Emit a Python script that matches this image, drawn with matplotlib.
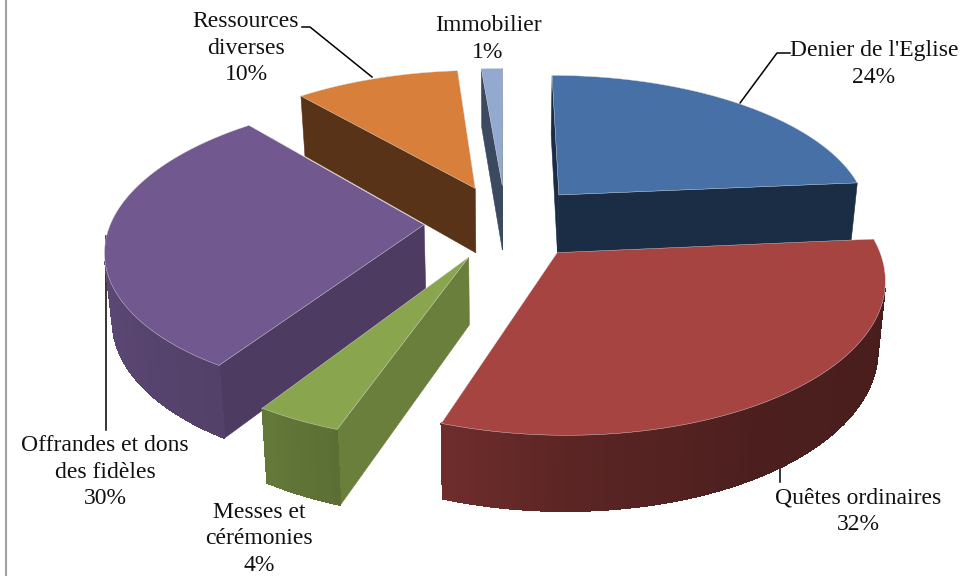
#plot.py
import numpy as np
import matplotlib
matplotlib.use("Agg")
import matplotlib.pyplot as plt
from matplotlib.patches import Polygon

# clockwise from the top, like the spreadsheet draws it
labels = ["Denier de l'Eglise", "Quêtes ordinaires", "Messes et\ncérémonies",
          "Offrandes et dons\ndes fidèles", "Ressources\ndiverses", "Immobilier"]
values = [23.6, 31.8, 3.7, 29.7, 10.0, 1.3]
shown_pct = [24, 32, 4, 30, 10, 1]
top_colors = ["#4771A6", "#A64442", "#89A54E", "#71588F", "#D8803B", "#93A9CF"]
side_colors = ["#1A2D45", "#4A1B19", "#6A7F3C", "#4D3B62", "#583317", "#3B4A60"]
label_pos = [(874, 64), (858, 511), (259, 539), (105, 472), (246, 48), (488, 39)]

# leader lines, in pixels
leaders = [[(302, 27), (310, 27), (372, 77)],
           [(790, 53), (777, 53), (740, 103)],
           [(106, 236), (106, 430)],
           [(780, 463), (780, 482)]]

# projection settings, fitted by eye
CX, CY = 505.5, 222
RX, RY = 313, 145
PERSP, PERSP_Z = 0.15, 0.02
DEPTH = 66
EXPLODE = 0.26

# how bright the round wall is, per angle
wall_deg = [0, 85, 150, 180, 200, 214, 260, 320, 360]
wall_lit = [0.42, 0.42, 0.46, 0.55, 0.67, 0.74, 0.82, 0.80, 0.60]


def project(u, v, z=0.0):
    w = 1 + PERSP * v
    return CX + RX * u / (w * (1 + PERSP_Z * z)), CY - RY * v / w + DEPTH * z / w ** 0.7


def shade(color, f):
    rgb = np.array(matplotlib.colors.to_rgb(color))
    return tuple(rgb * f)


def is_front(pts):
    x = np.array([p[0] for p in pts])
    y = np.array([p[1] for p in pts])
    return np.sum(x * np.roll(y, -1) - np.roll(x, -1) * y) < 0


fig = plt.figure(figsize=(9.61, 5.76), dpi=100)
ax = fig.add_axes([0, 0, 1, 1])
ax.set_xlim(0, 961)
ax.set_ylim(576, 0)
ax.axis("off")

# frame of the pasted chart, only the left side shows
ax.plot([6, 6], [0, 576], color="#A0A0A0", lw=1.5, zorder=1)

for pts in leaders:
    xs, ys = zip(*pts)
    ax.plot(xs, ys, color="black", lw=1.1, zorder=1)

angles = np.cumsum([0] + values) / sum(values) * 2 * np.pi
# back slices first, the front ones overlap them
draw_order = [5, 4, 0, 3, 2, 1]

for n, i in enumerate(draw_order):
    a0, a1 = angles[i], angles[i + 1]
    mid = (a0 + a1) / 2
    ou, ov = EXPLODE * np.sin(mid), EXPLODE * np.cos(mid)
    th = np.linspace(a0, a1, max(int(np.degrees(a1 - a0)), 4) + 1)
    us = ou + np.sin(th)
    vs = ov + np.cos(th)
    z0 = 10 + n * 10

    start = [project(ou, ov), project(us[0], vs[0]), project(us[0], vs[0], 1), project(ou, ov, 1)]
    end = [project(us[-1], vs[-1]), project(ou, ov), project(ou, ov, 1), project(us[-1], vs[-1], 1)]
    for q in (start, end):
        if is_front(q):
            ax.add_patch(Polygon(q, closed=True, fc=side_colors[i], ec=side_colors[i], lw=0.4, zorder=z0))

    for j in range(len(th) - 1):
        q = [project(us[j], vs[j]), project(us[j + 1], vs[j + 1]),
             project(us[j + 1], vs[j + 1], 1), project(us[j], vs[j], 1)]
        if is_front(q):
            lit = np.interp(np.degrees((th[j] + th[j + 1]) / 2), wall_deg, wall_lit)
            c = shade(top_colors[i], lit)
            # no antialiasing here, otherwise every segment leaves a stripe
            ax.add_patch(Polygon(q, closed=True, fc=c, ec=c, lw=0.5, antialiased=False, zorder=z0 + 1))

    top = [project(ou, ov)] + [project(a, b) for a, b in zip(us, vs)]
    ax.add_patch(Polygon(top, closed=True, fc=top_colors[i], ec="#DDDDDD", lw=0.3, zorder=z0 + 2))

for name, pct, (x, y) in zip(labels, shown_pct, label_pos):
    ax.text(x, y, f"{name}\n{pct}%", ha="center", va="center", multialignment="center",
            family="Liberation Serif", fontsize=17, color="#111111", linespacing=1.33, zorder=100)

fig.savefig("out.png", dpi=100, facecolor="white")
